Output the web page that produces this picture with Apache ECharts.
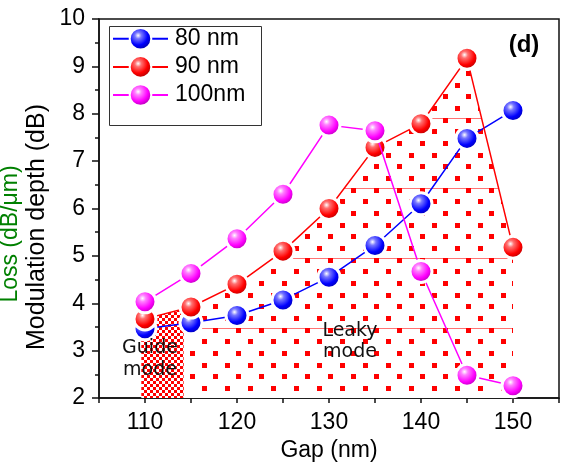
<!DOCTYPE html>
<html><head><meta charset="utf-8">
<script src="https://cdn.jsdelivr.net/npm/echarts@6/dist/echarts.min.js"></script>
<style>html,body{margin:0;padding:0;background:#fff}#c{width:561px;height:462px}</style>
</head><body><div id="c"></div>
<script>
// ---- data ----
const gaps = [110, 115, 120, 125, 130, 135, 140, 145, 150];
const depth80 = [3.46, 3.59, 3.74, 4.07, 4.55, 5.22, 6.10, 7.48, 8.07];
const depth90 = [3.67, 3.92, 4.40, 5.10, 6.00, 7.29, 7.79, 9.17, 5.18];
const depth100 = [4.03, 4.63, 5.36, 6.30, 7.76, 7.64, 4.67, 2.48, 2.26];
const seriesNames = ['80 nm', '90 nm', '100nm'];
const xTickLabels = [110, 120, 130, 140, 150];
const yTickLabels = [2, 3, 4, 5, 6, 7, 8, 9, 10];
const guideRange = [109.6, 114.2];   // gap range of the "Guide mode" shaded band
const leakyEnd = 150;                // end of the "Leaky mode" shaded band

const FONT = '"Liberation Sans", Arial, sans-serif';

function redAt(x) {
  let i = 0;
  while (i < gaps.length - 2 && x > gaps[i + 1]) i++;
  const t = (x - gaps[i]) / (gaps[i + 1] - gaps[i]);
  return depth90[i] + t * (depth90[i + 1] - depth90[i]);
}
const pair = (xs, ys) => xs.map((x, i) => [x, ys[i]]);

const leakyData = [[guideRange[1], redAt(guideRange[1])]].concat(
  pair(gaps, depth90).filter(p => p[0] > guideRange[1] && p[0] <= leakyEnd));
const guideData = [[guideRange[0], redAt(guideRange[0])]].concat(
  pair(gaps, depth90).filter(p => p[0] > guideRange[0] && p[0] < guideRange[1]),
  [[guideRange[1], redAt(guideRange[1])]]);

// ---- patterns ----
function dotTile() {
  const c = document.createElement('canvas'); c.width = 23; c.height = 70;
  const g = c.getContext('2d');
  g.fillStyle = '#fff'; g.fillRect(0, 0, 23, 70);
  g.strokeStyle = 'rgba(255,80,80,0.8)'; g.lineWidth = 1;
  g.beginPath(); g.moveTo(0, 48.5); g.lineTo(23, 48.5); g.stroke();
  g.fillStyle = '#ff0000';
  [3.5, 15.17, 26.83, 38.5, 50.17, 61.83].forEach((ry, i) => {
    const cx = i % 2 === 0 ? 8.8 : 20.3;
    g.fillRect(Math.round(cx - 2.5), Math.round(ry - 2.5), 5, 5);
  });
  return c;
}
function checkerTile() {
  const c = document.createElement('canvas'); c.width = 6; c.height = 6;
  const g = c.getContext('2d');
  g.fillStyle = '#fff'; g.fillRect(0, 0, 6, 6);
  g.fillStyle = '#ff0000'; g.fillRect(0, 0, 3, 3); g.fillRect(3, 3, 3, 3);
  return c;
}

function ball(main, light, dark) {
  return {
    type: 'radial', x: 0.4, y: 0.36, r: 0.62,
    colorStops: [
      { offset: 0, color: '#ffffff' },
      { offset: 0.22, color: light },
      { offset: 0.65, color: main },
      { offset: 1, color: dark }
    ]
  };
}
const styles = [
  { line: '#0000ff', ball: ball('#0000ff', '#7777ff', '#0000a8') },
  { line: '#ff0000', ball: ball('#ff0000', '#ff7070', '#b00000') },
  { line: '#ff00ff', ball: ball('#ff00ff', '#ff80ff', '#b000b0') }
];
const values = [depth80, depth90, depth100];

const chart = echarts.init(document.getElementById('c'), null, { renderer: 'canvas' });

const mainSeries = values.map((vals, k) => ({
  name: seriesNames[k], type: 'line', z: 5 + k,
  data: pair(gaps, vals),
  symbol: 'circle', symbolSize: 22,
  lineStyle: { color: styles[k].line, width: 1.5 },
  itemStyle: { color: styles[k].ball, borderColor: '#ffffff', borderWidth: 3 },
  emphasis: { disabled: true }, clip: false
}));

chart.setOption({
  animation: false,
  grid: { left: 99, right: 2, top: 19, bottom: 64, show: true, borderColor: '#111', borderWidth: 1.5, outerBoundsMode: 'none' },
  xAxis: {
    type: 'value', min: 105, max: 155, interval: 5,
    axisLine: { lineStyle: { color: '#111', width: 1.5 } },
    axisTick: { show: true, length: 5, lineStyle: { color: '#111', width: 1.5 } },
    splitLine: { show: false },
    axisLabel: { margin: 13, fontSize: 23, fontFamily: FONT, color: '#000',
      formatter: v => xTickLabels.includes(v) ? String(v) : '' },
    name: 'Gap (nm)', nameLocation: 'middle', nameGap: 40,
    nameTextStyle: { fontSize: 23, fontFamily: FONT, color: '#000' }
  },
  yAxis: {
    type: 'value', min: 2, max: 10, interval: 1,
    axisLine: { show: true, lineStyle: { color: '#111', width: 1.5 } },
    axisTick: { show: true, length: 7, lineStyle: { color: '#111', width: 1.5 } },
    minorTick: { show: true, splitNumber: 2, length: 4, lineStyle: { color: '#111', width: 1.5 } },
    splitLine: { show: false },
    axisLabel: { margin: 14, fontSize: 23, fontFamily: FONT, color: '#000',
      formatter: v => yTickLabels.includes(v) ? String(v) : '' }
  },
  legend: {
    data: seriesNames, orient: 'vertical', left: 112, top: 27, padding: 0,
    itemWidth: 55, itemHeight: 27, itemGap: 4.5,
    textStyle: { fontSize: 23, fontFamily: FONT, color: '#000', padding: [0, 0, 0, 2] },
    selectedMode: false
  },
  series: [
    { type: 'line', name: 'leaky', data: leakyData, symbol: 'none', z: 1,
      lineStyle: { width: 0, opacity: 0 }, areaStyle: { color: { image: dotTile(), repeat: 'repeat' }, opacity: 1 },
      silent: true, legendHoverLink: false },
    { type: 'line', name: 'guide', data: guideData, symbol: 'none', z: 1,
      lineStyle: { width: 0, opacity: 0 }, areaStyle: { color: { image: checkerTile(), repeat: 'repeat' }, opacity: 1 },
      silent: true, legendHoverLink: false }
  ].concat(mainSeries),
  graphic: [
    { type: 'rect', left: 107, top: 24, z: 100, shape: { width: 152, height: 99 },
      style: { fill: 'none', stroke: '#333', lineWidth: 1 } },
    { type: 'text', x: 524, y: 45, z: 100,
      style: { text: '(d)', font: 'bold 24px ' + FONT, fill: '#000', textAlign: 'center', textVerticalAlign: 'middle' } },
    { type: 'text', x: 150, y: 359, z: 100,
      style: { text: 'Guide\nmode', font: '19px "DejaVu Sans", sans-serif', lineHeight: 22, fill: '#111', textAlign: 'center', textVerticalAlign: 'middle' } },
    { type: 'text', x: 350, y: 342, z: 100,
      style: { text: 'Leaky\nmode', font: '19px "DejaVu Sans", sans-serif', lineHeight: 21, fill: '#111', textAlign: 'center', textVerticalAlign: 'middle' } },
    { type: 'text', x: 37, y: 227, rotation: Math.PI / 2, z: 100,
      style: { text: 'Modulation depth (dB)', font: '25px ' + FONT, fill: '#000', textAlign: 'center', textVerticalAlign: 'middle' } },
    { type: 'text', x: 11, y: 234, rotation: Math.PI / 2, z: 100,
      style: { text: 'Loss (dB/μm)', font: '23px ' + FONT, fill: '#008000', textAlign: 'center', textVerticalAlign: 'middle' } }
  ]
});
</script>
</body></html>
